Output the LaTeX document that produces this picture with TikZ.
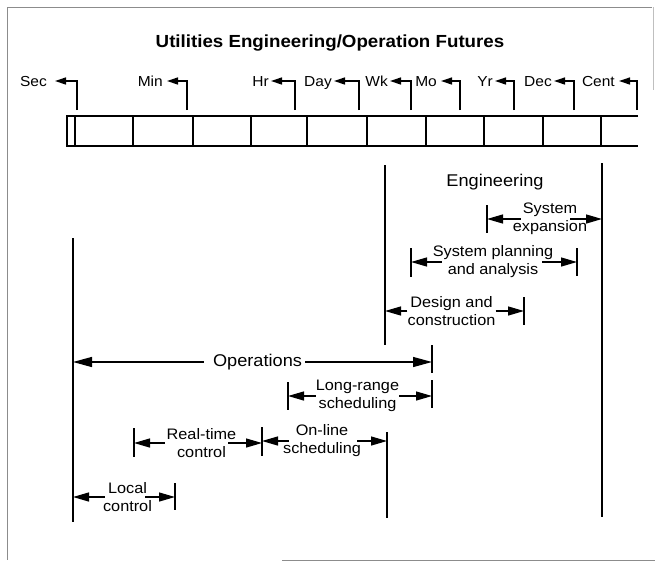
\documentclass[tikz,border=0pt]{standalone}
\usepackage{fontspec}
\setmainfont{Liberation Sans}[FakeStretch=1.07]
\usetikzlibrary{arrows.meta}
\tikzset{
  ln/.style={line width=1.3pt},
  frame/.style={draw=black!45, line width=0.8pt},
  arr/.style={ln, -{Triangle[length=16pt,width=9pt]}},
  bigarr/.style={ln, -{Triangle[length=19pt,width=10pt]}},
  sarr/.style={ln, -{Triangle[length=11pt,width=7pt]}},
  lab/.style={font=\fontsize{15.2}{18}\selectfont, align=center, inner sep=0pt},
  big/.style={font=\fontsize{17}{20}\selectfont, inner sep=0pt},
  ticklab/.style={font=\fontsize{14.5}{17}\selectfont, inner sep=0pt, anchor=east, text height=10.5pt, text depth=0pt},
}
\begin{document}
\begin{tikzpicture}[x=1pt,y=-1pt]
\useasboundingbox (0,0) rectangle (655,563);
% frame (scanned page edges)
\draw[frame] (652,7) -- (7,7) -- (7,560);
\draw[frame] (282,560) -- (655,560);
\draw[draw=black!25, line width=0.6pt] (653,7) -- (653,90);

% title
\node[font=\bfseries\fontsize{17.5}{20}\selectfont, inner sep=0pt] (title) at (330,43) {Utilities Engineering/Operation Futures};

% time-scale labels and markers
\node[ticklab] (sec) at (47,81) {Sec};
\node[ticklab] (min) at (163,81) {Min};
\node[ticklab] (hr) at (269,81) {Hr};
\node[ticklab] (day) at (332,81) {Day};
\node[ticklab] (wk) at (388,81) {Wk};
\node[ticklab] (mo) at (437,81) {Mo};
\node[ticklab] (yr) at (493,81) {Yr};
\node[ticklab] (dec) at (552,81) {Dec};
\node[ticklab] (cent) at (615,81) {Cent};
\draw[sarr] (77,110) |- ([xshift=8pt]sec.east);
\draw[sarr] (187,110) |- ([xshift=4pt]min.east);
\draw[sarr] (295,110) |- ([xshift=2pt]hr.east);
\draw[sarr] (359,110) |- ([xshift=2pt]day.east);
\draw[sarr] (411,110) |- ([xshift=2pt]wk.east);
\draw[sarr] (460,110) |- ([xshift=4pt]mo.east);
\draw[sarr] (514,110) |- ([xshift=2pt]yr.east);
\draw[sarr] (574,110) |- ([xshift=2pt]dec.east);
\draw[sarr] (637,110) |- ([xshift=4pt]cent.east);

% scale bar
\draw[ln] (638,116) -- (67,116) -- (67,146) -- (638,146);
\foreach \x in {75,133,193,251,307,367,426,484,543,601}
  \draw[ln] (\x,116) -- (\x,146);

% main span lines
\draw[ln] (385,165) -- (385,345);
\draw[ln] (602,163) -- (602,517);
\draw[ln] (73,238) -- (73,522);
\draw[ln] (387,432) -- (387,518);

% Engineering
\node[big] (eng) at (495,182) {Engineering};

% System expansion
\node[lab] (se) at (550,219) {System\\expansion};
\coordinate (seL) at (487,219);
\coordinate (seR) at (602,219);
\draw[ln] (487,205) -- (487,233);
\draw[arr] ([xshift=8pt]se.west) -- (seL);
\draw[arr] ([xshift=-17pt]se.east) -- (seR);

% System planning and analysis
\node[lab] (spa) at (493,262) {System planning\\and analysis};
\coordinate (spaL) at (411,262);
\coordinate (spaR) at (577,262);
\draw[ln] (411,248) -- (411,277);
\draw[ln] (577,248) -- (577,276);
\draw[arr] ([xshift=9pt]spa.west) -- (spaL);
\draw[arr] ([xshift=-11pt]spa.east) -- (spaR);

% Design and construction
\node[lab] (dc) at (451.5,311) {Design and\\construction};
\coordinate (dcL) at (385,311);
\coordinate (dcR) at (524,311);
\draw[ln] (524,297) -- (524,325);
\draw[arr] (dc.west) -- (dcL);
\draw[arr] (dc.east) -- (dcR);

% Operations
\node[big] (ops) at (257.5,362) {Operations};
\coordinate (opsL) at (73,362);
\coordinate (opsR) at (432,362);
\draw[ln] (432,345) -- (432,373);
\draw[bigarr] ([xshift=-9pt]ops.west) -- (opsL);
\draw[bigarr] ([xshift=3pt]ops.east) -- (opsR);

% Long-range scheduling
\node[lab] (lrs) at (357.5,396) {Long-range\\scheduling};
\coordinate (lrsL) at (288,396);
\coordinate (lrsR) at (432,396);
\draw[ln] (288,382) -- (288,410);
\draw[ln] (432,380) -- (432,408);
\draw[arr] (lrs.west) -- (lrsL);
\draw[arr] (lrs.east) -- (lrsR);

% Real-time control
\node[lab] (rtc) at (201.5,443) {Real-time\\control};
\coordinate (rtcL) at (134,443);
\coordinate (rtcR) at (262,443);
\draw[ln] (134,428) -- (134,457);
\draw[ln] (262,427) -- (262,456);
\draw[arr] ([xshift=-2pt]rtc.west) -- (rtcL);
\draw[arr] ([xshift=-8pt]rtc.east) -- (rtcR);

% On-line scheduling
\node[lab] (ols) at (322,441) {On-line\\scheduling};
\coordinate (olsL) at (262,441);
\coordinate (olsR) at (387,441);
\draw[arr] ([xshift=6pt]ols.west) -- (olsL);
\draw[arr] ([xshift=-4pt]ols.east) -- (olsR);

% Local control
\node[lab] (lc) at (127.5,497) {Local\\control};
\coordinate (lcL) at (73,497);
\coordinate (lcR) at (175,497);
\draw[ln] (175,483) -- (175,510);
\draw[arr] ([xshift=2pt]lc.west) -- (lcL);
\draw[arr] ([xshift=-7pt]lc.east) -- (lcR);
\end{tikzpicture}
\end{document}
